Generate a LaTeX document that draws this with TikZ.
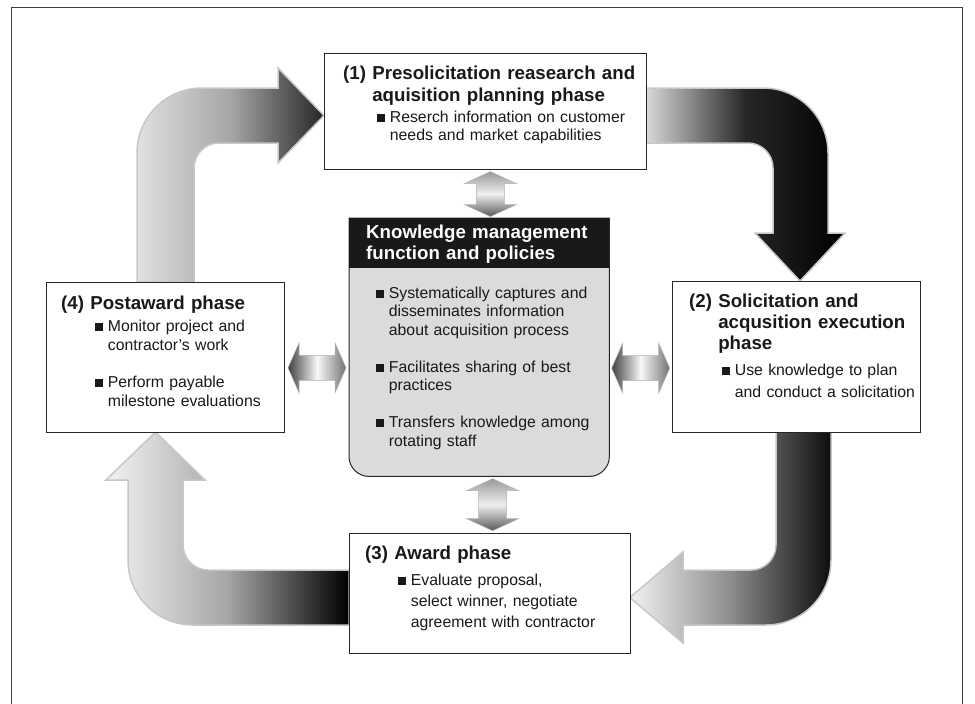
\documentclass[tikz,border=0pt]{standalone}
\usepackage{fontspec}
\setmainfont{Liberation Sans}
\usetikzlibrary{calc}

\newcommand{\bsq}{\rule[0.3pt]{8.2pt}{8.2pt}\hspace{4.5pt}}
\newcommand{\hsq}{\phantom{\bsq}}

\begin{document}
\begin{tikzpicture}
		[x=1pt, y=-1pt,
		 ph/.style= {draw=black!85, line width=1.1pt, fill=white, inner sep=0pt, anchor=north west},
		 ttl/.style= {font=\fontsize{18.7}{#1}\selectfont\bfseries, text=black!90, text width=320pt, align=left, inner sep=0pt, anchor=base west},
		 ttl/.default=22.4,
		 itm/.style= {font=\fontsize{15.8}{#1}\selectfont, text=black!90, text width=300pt, align=left, inner sep=0pt, anchor=base west},
		 itm/.default=18.5,
		 big/.style= {draw=black!22, line width=1.5pt},
		 dbl/.style= {draw=black!30, line width=0.5pt}]

		\useasboundingbox (0,0) rectangle (975,704);
		\draw[black!75, line width=0.9pt] (11,712) -- (11,7) -- (962,7) -- (962,712);

		% big arrows of the cycle
		\path[big, left color=black!12, right color=black!85, middle color=black!35]
			(137,282) -- (137,153) arc[start angle=180, end angle=270, radius=65]
			-- (278,88) -- (278,68) -- (324,115.5) -- (278,163) -- (278,143)
			-- (219,143) arc[start angle=270, end angle=180, radius=25]
			-- (194,282) -- cycle;

		\path[big, left color=black!15, right color=black, middle color=black!85]
			(646,88) -- (763,88) arc[start angle=270, end angle=360, radius=65]
			-- (828,233) -- (845,233) -- (800,281) -- (755,233) -- (773,233)
			-- (773,168) arc[start angle=0, end angle=-90, radius=25]
			-- (646,143) -- cycle;

		\path[big, left color=black!5, right color=black!95, middle color=black!45]
			(776,432) -- (776,545) arc[start angle=0, end angle=90, radius=25]
			-- (683,570) -- (683,552) -- (630,597.5) -- (683,643) -- (683,625)
			-- (766,625) arc[start angle=90, end angle=0, radius=65]
			-- (831,432) -- cycle;

		\path[big, left color=black!5, right color=black, middle color=black!35]
			(349,570) -- (208,570) arc[start angle=90, end angle=180, radius=25]
			-- (183,480) -- (205,480) -- (155.5,432) -- (106,480) -- (128,480)
			-- (128,560) arc[start angle=180, end angle=90, radius=65]
			-- (193,625) -- (349,625) -- cycle;

		% phase boxes
		\node[ph, minimum width=322pt, minimum height=116pt] (p1) at (324,53) {};
		\node[ph, minimum width=248pt, minimum height=151pt] (p2) at (672,281) {};
		\node[ph, minimum width=281pt, minimum height=120pt] (p3) at (349,533) {};
		\node[ph, minimum width=238pt, minimum height=150pt] (p4) at (46,282) {};

		% knowledge management box
		\node[inner sep=0pt, minimum width=260pt, minimum height=258pt, anchor=north west] (km) at (349,218) {};
		\draw[fill=black!14, line width=1pt, draw=black!85]
			(km.north west) -- (km.north east)
			-- ($(km.south east)+(0,-20)$) arc[start angle=0, end angle=90, radius=20]
			-- ($(km.south west)+(20,0)$) arc[start angle=90, end angle=180, radius=20]
			-- cycle;
		\fill[black!90] (km.north west) rectangle ($(km.north east)+(0,50)$);

		% double arrows to the knowledge box
		\path[dbl, top color=black!40, bottom color=black!65, middle color=black!6,
			shift={($(p1.south)!0.5!(km.north)+(8,0)$)}]
			(0,-22.5) -- (26,-10.5) -- (14,-10.5) -- (14,10.5) -- (26,10.5) -- (0,22.5)
			-- (-26,10.5) -- (-14,10.5) -- (-14,-10.5) -- (-26,-10.5) -- cycle;
		\path[dbl, top color=black!40, bottom color=black!65, middle color=black!6,
			shift={($(km.south)!0.5!(p3.north)+(8,0)$)}]
			(0,-26) -- (26,-14) -- (14,-14) -- (14,14) -- (26,14) -- (0,26)
			-- (-26,14) -- (-14,14) -- (-14,-14) -- (-26,-14) -- cycle;
		\path[dbl, left color=black!75, right color=black!55, middle color=black!3,
			shift={($(p4.east)!0.5!(km.west)+(0,15.5)$)}]
			(-29,0) -- (-18,-25) -- (-18,-12.5) -- (18,-12.5) -- (18,-25) -- (29,0)
			-- (18,25) -- (18,12.5) -- (-18,12.5) -- (-18,25) -- cycle;
		\path[dbl, left color=black!75, right color=black!55, middle color=black!3,
			shift={($(km.east)!0.5!(p2.west)+(0,16)$)}]
			(-29,0) -- (-18,-25) -- (-18,-12.5) -- (18,-12.5) -- (18,-25) -- (29,0)
			-- (18,25) -- (18,12.5) -- (-18,12.5) -- (-18,25) -- cycle;

		% texts
		\node[ttl] (p1t) at (343,79) {(1) Presolicitation reasearch and\\\phantom{(1) }aquisition planning phase};
		\node[itm=18] (p1b) at (377,122) {\bsq Reserch information on customer\\\hsq needs and market capabilities};

		\node[ttl=21, text=white] (kmt) at (366,238) {Knowledge management\\function and policies};
		\node[itm] (kmb) at (376,298) {\bsq Systematically captures and\\\hsq disseminates information\\\hsq about acquisition process\\[18.5pt]%
			\bsq Facilitates sharing of best\\\hsq practices\\[18.5pt]%
			\bsq Transfers knowledge among\\\hsq rotating staff};

		\node[ttl=21] (p2t) at (689,307) {(2) Solicitation and\\\phantom{(2) }acqusition execution\\\phantom{(2) }phase};
		\node[itm=22] (p2b) at (722,375) {\bsq Use knowledge to plan\\\hsq and conduct a solicitation};

		\node[ttl] (p3t) at (365,559) {(3) Award phase};
		\node[itm=21] (p3b) at (398,585) {\bsq Evaluate proposal,\\\hsq select winner, negotiate\\\hsq agreement with contractor};

		\node[ttl] (p4t) at (61,309) {(4) Postaward phase};
		\node[itm=18.8] (p4b) at (95,331.5) {\bsq Monitor project and\\\hsq contractor's work\\[18.4pt]%
			\bsq Perform payable\\\hsq milestone evaluations};

\end{tikzpicture}
\end{document}
